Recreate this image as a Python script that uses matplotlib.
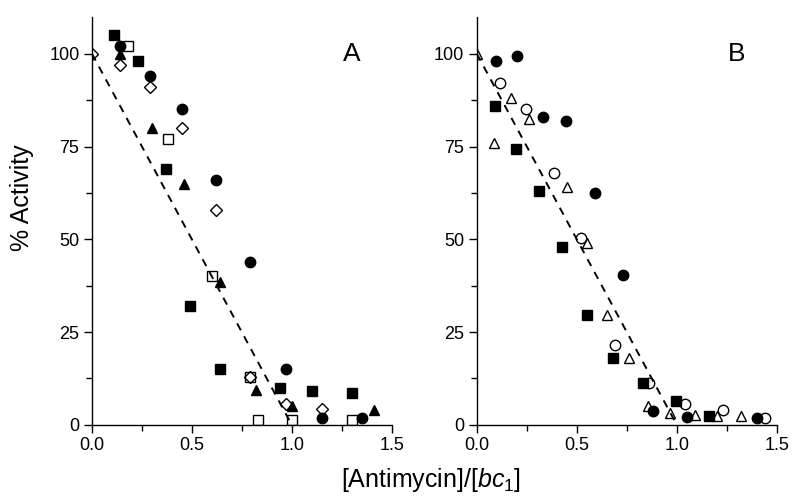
import numpy as np
import matplotlib.pyplot as plt
from matplotlib.ticker import MultipleLocator

plt.rcParams['font.family'] = ['Liberation Sans', 'DejaVu Sans']
plt.rcParams['mathtext.fontset'] = 'custom'
plt.rcParams['mathtext.rm'] = 'Liberation Sans'
plt.rcParams['mathtext.it'] = 'Liberation Sans:italic'

# Panel A
a_fsq_x = [0.11, 0.23, 0.37, 0.49, 0.64, 0.94, 1.10, 1.30]
a_fsq_y = [105, 98, 69, 32, 15, 10, 9, 8.5]
a_fci_x = [0.14, 0.29, 0.45, 0.62, 0.79, 0.97, 1.15, 1.35]
a_fci_y = [102, 94, 85, 66, 44, 15, 1.8, 1.8]
a_ftr_x = [0.14, 0.30, 0.46, 0.64, 0.82, 1.00, 1.41]
a_ftr_y = [100, 80, 65, 38.5, 9.3, 5, 4]
a_osq_x = [0.18, 0.38, 0.60, 0.79, 0.83, 1.00, 1.30]
a_osq_y = [102, 77, 40, 13, 1.3, 1.3, 1.3]
a_odi_x = [0.0, 0.14, 0.29, 0.45, 0.62, 0.79, 0.97, 1.15]
a_odi_y = [100, 97, 91, 80, 58, 13, 5.7, 4.4]

# Panel B
b_fci_x = [0.095, 0.20, 0.33, 0.445, 0.59, 0.73, 0.88, 1.05, 1.40]
b_fci_y = [98, 99.3, 83, 82, 62.5, 40.3, 3.8, 2, 1.8]
b_fsq_x = [0.09, 0.195, 0.31, 0.425, 0.55, 0.68, 0.83, 0.995, 1.16]
b_fsq_y = [86, 74.3, 63, 48, 29.7, 18, 11.3, 6.3, 2.3]
b_oci_x = [0.115, 0.245, 0.385, 0.52, 0.69, 0.86, 1.04, 1.23, 1.44]
b_oci_y = [92, 85, 68, 50.3, 21.6, 11.3, 5.6, 4, 1.8]
b_otr_x = [0.0, 0.085, 0.17, 0.26, 0.45, 0.55, 0.65, 0.76, 0.857, 0.965, 1.09, 1.20, 1.32]
b_otr_y = [100, 76, 88, 82.5, 64, 49, 29.5, 18, 5, 3.3, 2.6, 2.3, 2.3]

fit_x = [0.0, 1.0]
fit_y = [100, 0]

fig = plt.figure(figsize=(8, 5.04), dpi=100)
axA = fig.add_axes([0.115, 0.157, 0.3745, 0.81])
axB = fig.add_axes([0.596, 0.157, 0.375, 0.81])

ms = 7.5
for ax in (axA, axB):
    ax.plot(fit_x, fit_y, color='black', ls=(0, (4, 3.5)), lw=1.4, zorder=1)

def pts(ax, x, y, m, filled, size=ms):
    if filled:
        ax.plot(x, y, ls='none', marker=m, ms=size, color='black', zorder=3)
    else:
        ax.plot(x, y, ls='none', marker=m, ms=size, mfc='none', mec='black', mew=1.0, zorder=2)

pts(axA, a_osq_x, a_osq_y, 's', False)
pts(axA, a_odi_x, a_odi_y, 'D', False, 6.5)
pts(axA, a_fsq_x, a_fsq_y, 's', True)
pts(axA, a_fci_x, a_fci_y, 'o', True)
pts(axA, a_ftr_x, a_ftr_y, '^', True)

pts(axB, b_oci_x, b_oci_y, 'o', False)
pts(axB, b_otr_x, b_otr_y, '^', False)
pts(axB, b_fsq_x, b_fsq_y, 's', True)
pts(axB, b_fci_x, b_fci_y, 'o', True)

for ax, lab in ((axA, 'A'), (axB, 'B')):
    ax.set_xlim(0, 1.5)
    ax.set_ylim(0, 110)
    ax.spines['top'].set_visible(False)
    ax.spines['right'].set_visible(False)
    for s in ('left', 'bottom'):
        ax.spines[s].set_linewidth(1.0)
    ax.xaxis.set_major_locator(MultipleLocator(0.5))
    ax.xaxis.set_minor_locator(MultipleLocator(0.25))
    ax.yaxis.set_major_locator(MultipleLocator(25))
    ax.yaxis.set_minor_locator(MultipleLocator(12.5))
    ax.xaxis.set_major_formatter(plt.FuncFormatter(lambda v, p: f'{v:.1f}'))
    ax.tick_params(which='major', direction='out', length=6, width=1.0, labelsize=13, pad=3)
    ax.tick_params(which='minor', direction='out', length=4, width=1.0)
    ax.text(1.3, 100, lab, fontsize=19, ha='center', va='center')

axA.set_ylabel('% Activity', fontsize=18)
axA.yaxis.set_label_coords(-0.195, 0.557)
fig.text(431 / 800, 1 - 480 / 504, r'[Antimycin]/[$\mathit{bc}_1$]', fontsize=18,
         ha='center', va='center')

plt.savefig('out.png', dpi=100)
